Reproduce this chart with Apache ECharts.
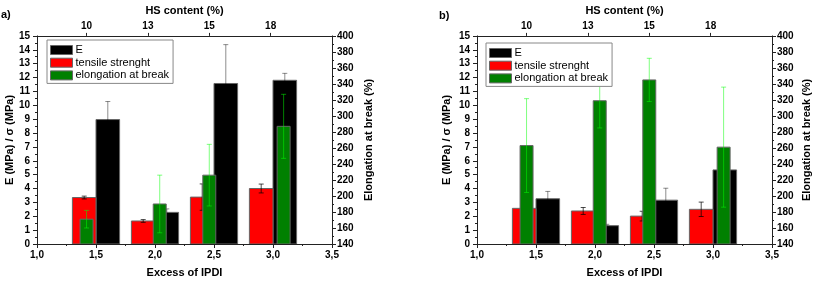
<!DOCTYPE html>
<html>
<head>
<meta charset="utf-8">
<script src="https://cdn.jsdelivr.net/npm/echarts@6/dist/echarts.min.js"></script>
<style>
html,body{margin:0;padding:0;background:#fff;}
#chart{width:813px;height:283px;}
</style>
</head>
<body>
<div id="chart"></div>
<script>
// ---- data ----
const excessIPDI = [1.5, 2.0, 2.5, 3.0];           // bottom axis categories (value axis)
const elongX = [1.42, 2.04, 2.46, 3.09];           // x of the elongation bars
const hsTickPos = [1.42, 1.94, 2.46, 2.98];        // top axis tick positions
const hsLabels = ['10', '13', '15', '18'];         // top axis tick labels
const seriesNames = ['E', 'tensile strenght', 'elongation at break'];

// panel a
const E_a = [8.97, 2.28, 11.57, 11.8];
const E_a_err = [1.3, 0.25, 2.8, 0.5];
const sigma_a = [3.35, 1.66, 3.38, 4.0];
const sigma_a_err = [0.1, 0.1, 0.95, 0.32];
const elong_a = [171, 190, 226, 287];
const elong_a_err = [11, 36, 38.5, 40];

// panel b
const E_b = [3.26, 1.32, 3.16, 5.34];
const E_b_err = [0.53, 0.1, 0.86, 0];
const sigma_b = [2.57, 2.38, 2.01, 2.5];
const sigma_b_err = [0.15, 0.25, 0.35, 0.52];
const elong_b = [263, 319, 345, 261];
const elong_b_err = [58.6, 34, 27, 75];

// ---- chart ----
const FONT = "'Liberation Sans', Arial, sans-serif";
const chart = echarts.init(document.getElementById('chart'), null, {renderer: 'canvas'});

function barSeries(name, xs, ys, errs, xi, yi, base, halfW, offset, color, errColor, errBelow, z) {
  return {
    type: 'custom',
    name: name,
    xAxisIndex: xi,
    yAxisIndex: yi,
    z: z,
    clip: true,
    itemStyle: {color: color, borderColor: '#666', borderWidth: 1},
    encode: {x: 0, y: 1},
    data: xs.map((x, i) => [x + offset, ys[i], errs[i]]),
    renderItem: function (params, api) {
      const x = api.value(0), y = api.value(1), e = api.value(2);
      const p1 = api.coord([x - halfW, y]);
      const p0 = api.coord([x + halfW, base]);
      const rect = {
        type: 'rect',
        shape: {x: p1[0], y: p1[1], width: p0[0] - p1[0], height: p0[1] - p1[1]},
        style: {fill: color, stroke: '#666', lineWidth: 1}
      };
      const children = [];
      if (e > 0) {
        const top = api.coord([x, y + e]);
        const bot = api.coord([x, errBelow ? y - e : y]);
        const cap = 2.5;
        const st = {stroke: errColor, lineWidth: 1};
        const err = {
          type: 'group',
          children: [
            {type: 'line', shape: {x1: top[0], y1: top[1], x2: bot[0], y2: bot[1]}, style: st},
            {type: 'line', shape: {x1: top[0] - cap, y1: top[1], x2: top[0] + cap, y2: top[1]}, style: st}
          ].concat(errBelow ? [{type: 'line', shape: {x1: bot[0] - cap, y1: bot[1], x2: bot[0] + cap, y2: bot[1]}, style: st}] : [])
        };
        children.push(rect, err);
      } else {
        children.push(rect);
      }
      return {type: 'group', children: children};
    }
  };
}

const axisLineStyle = {color: '#222', width: 1};
const labelStyle = {color: '#000', fontFamily: FONT, fontWeight: 'bold', fontSize: 10};
const nameStyle = {color: '#000', fontFamily: FONT, fontWeight: 'bold', fontSize: 11};

function makeAxes(gridIndex, leftGap, rightGap) {
  const xs = [
    {
      type: 'value', gridIndex: gridIndex, position: 'bottom', min: 1, max: 3.5, interval: 0.5,
      name: 'Excess of IPDI', nameLocation: 'middle', nameGap: 23, nameTextStyle: nameStyle,
      axisLine: {show: true, lineStyle: axisLineStyle},
      axisTick: {show: true, length: 4, lineStyle: axisLineStyle},
      minorTick: {show: true, splitNumber: 2, length: 2, lineStyle: axisLineStyle},
      axisLabel: Object.assign({margin: 6, formatter: v => v.toFixed(1).replace('.', ',')}, labelStyle),
      splitLine: {show: false}
    },
    {
      type: 'value', gridIndex: gridIndex, position: 'top', min: 1, max: 3.5,
      name: 'HS content (%)', nameLocation: 'middle', nameGap: 19, nameTextStyle: nameStyle,
      axisLine: {show: true, lineStyle: axisLineStyle},
      axisTick: {show: true, length: 3, customValues: hsTickPos, lineStyle: axisLineStyle},
      axisLabel: Object.assign({margin: 5, customValues: hsTickPos,
        formatter: v => { const i = hsTickPos.findIndex(p => Math.abs(p - v) < 1e-6); return i >= 0 ? hsLabels[i] : ''; }}, labelStyle),
      splitLine: {show: false}
    }
  ];
  const ys = [
    {
      type: 'value', gridIndex: gridIndex, position: 'left', min: 0, max: 15, interval: 1,
      name: 'E (MPa) / σ (MPa)', nameLocation: 'middle', nameGap: leftGap, nameRotate: 90, nameTextStyle: nameStyle,
      axisLine: {show: true, lineStyle: axisLineStyle},
      axisTick: {show: true, length: 4, lineStyle: axisLineStyle},
      minorTick: {show: true, splitNumber: 2, length: 2, lineStyle: axisLineStyle},
      axisLabel: Object.assign({margin: 7}, labelStyle),
      splitLine: {show: false}
    },
    {
      type: 'value', gridIndex: gridIndex, position: 'right', min: 140, max: 400, interval: 20,
      name: 'Elongation at break (%)', nameLocation: 'middle', nameGap: rightGap, nameRotate: 90, nameTextStyle: nameStyle,
      axisLine: {show: true, lineStyle: axisLineStyle},
      axisTick: {show: true, length: 4, lineStyle: axisLineStyle},
      minorTick: {show: true, splitNumber: 2, length: 2, lineStyle: axisLineStyle},
      axisLabel: Object.assign({margin: 5}, labelStyle),
      splitLine: {show: false}
    }
  ];
  return {xs, ys};
}

const A = makeAxes(0, 21, 31);
const B = makeAxes(1, 25, 29);

function legendFor(left, top) {
  return {
    data: seriesNames,
    orient: 'vertical',
    left: left, top: top,
    itemWidth: 22, itemHeight: 9, itemGap: 0.7,
    padding: [4, 4, 2, 3],
    borderColor: '#888', borderWidth: 1,
    backgroundColor: '#fff',
    icon: 'rect',
    itemStyle: {borderColor: '#666', borderWidth: 1},
    textStyle: {color: '#000', fontFamily: FONT, fontSize: 11, lineHeight: 12, padding: [0, 0, 0, -2]},
    z: 10
  };
}

const ERR_BLACK = 'rgba(0,0,0,0.45)';
const ERR_RED = 'rgba(0,0,0,0.7)';
const ERR_GREEN = 'rgba(0,255,0,0.5)';

const option = {
  backgroundColor: '#fff',
  animation: false,
  grid: [
    {left: 37, right: 481, top: 30, bottom: 36},
    {left: 477, right: 41, top: 31, bottom: 36}
  ],
  xAxis: A.xs.concat(B.xs),
  yAxis: A.ys.concat(B.ys),
  legend: [legendFor(47, 40), legendFor(486, 43)],
  graphic: [
    {type: 'text', left: 1, top: 9, style: {text: 'a)', fill: '#000', font: 'bold 11px ' + FONT}},
    {type: 'text', left: 439, top: 10, style: {text: 'b)', fill: '#000', font: 'bold 11px ' + FONT}}
  ],
  series: [
    barSeries(seriesNames[0], excessIPDI, E_a, E_a_err, 0, 0, 0, 0.1, 0.1, '#000000', ERR_BLACK, true, 2),
    barSeries(seriesNames[1], excessIPDI, sigma_a, sigma_a_err, 0, 0, 0, 0.1, -0.1, '#ff0000', ERR_RED, true, 3),
    barSeries(seriesNames[2], elongX, elong_a, elong_a_err, 0, 1, 140, 0.055, 0, '#008000', ERR_GREEN, true, 4),
    barSeries(seriesNames[0], excessIPDI, E_b, E_b_err, 2, 2, 0, 0.1, 0.1, '#000000', ERR_BLACK, true, 2),
    barSeries(seriesNames[1], excessIPDI, sigma_b, sigma_b_err, 2, 2, 0, 0.1, -0.1, '#ff0000', ERR_RED, true, 3),
    barSeries(seriesNames[2], elongX, elong_b, elong_b_err, 2, 3, 140, 0.055, 0, '#008000', ERR_GREEN, true, 4)
  ]
};
chart.setOption(option);
</script>
</body>
</html>
